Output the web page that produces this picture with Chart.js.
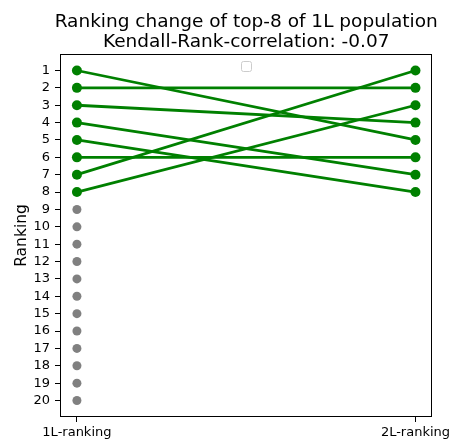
<!DOCTYPE html>
<html>
<head>
<meta charset="utf-8">
<script src="https://cdn.jsdelivr.net/npm/chart.js@4/dist/chart.umd.min.js"></script>
<style>
html,body{margin:0;padding:0;background:#fff;}
#wrap{width:454px;height:440px;position:relative;}
</style>
</head>
<body>
<div id="wrap"><canvas id="c" width="454" height="440"></canvas></div>
<script>
const titleLines = ['Ranking change of top-8 of 1L population', 'Kendall-Rank-correlation: -0.07'];
const yLabel = 'Ranking';
const xCategories = ['1L-ranking', '2L-ranking'];
const leftRanks = [1, 2, 3, 4, 5, 6, 7, 8];
const rightRanks = [5, 2, 4, 7, 8, 6, 1, 3];
const otherRanks = [9, 10, 11, 12, 13, 14, 15, 16, 17, 18, 19, 20];
const yTicks = [1, 2, 3, 4, 5, 6, 7, 8, 9, 10, 11, 12, 13, 14, 15, 16, 17, 18, 19, 20];

const FONT = "'DejaVu Sans', sans-serif";
const GREEN = '#008000';
const GRAY = '#808080';

const datasets = [];
datasets.push({
  data: otherRanks.map(r => ({x: 0, y: r})),
  showLine: false,
  pointRadius: 4.5,
  pointBackgroundColor: GRAY,
  pointBorderColor: GRAY,
  pointBorderWidth: 0
});
leftRanks.forEach((l, i) => {
  datasets.push({
    data: [{x: 0, y: l}, {x: 1, y: rightRanks[i]}],
    showLine: true,
    borderColor: GREEN,
    borderWidth: 2.8,
    pointRadius: 5,
    pointBackgroundColor: GREEN,
    pointBorderColor: GREEN,
    pointBorderWidth: 0
  });
});

const deco = {
  id: 'deco',
  afterDraw(chart) {
    const ctx = chart.ctx;
    const a = chart.chartArea;
    ctx.save();
    ctx.strokeStyle = '#000';
    ctx.lineWidth = 1;
    ctx.strokeRect(Math.round(a.left) + 0.5, Math.round(a.top) + 0.5, Math.round(a.right - a.left) - 1, Math.round(a.bottom - a.top) - 1);
    const cx = (a.left + a.right) / 2;
    ctx.fillStyle = '#000';
    ctx.textAlign = 'center';
    ctx.textBaseline = 'alphabetic';
    ctx.font = '18.5px ' + FONT;
    ctx.fillText(titleLines[0], cx, 27);
    ctx.fillText(titleLines[1], cx, 47);
    ctx.save();
    ctx.translate(26, (a.top + a.bottom) / 2);
    ctx.rotate(-Math.PI / 2);
    ctx.textBaseline = 'alphabetic';
    ctx.font = '15.5px ' + FONT;
    ctx.fillText(yLabel, 0, 0);
    ctx.restore();
    // empty legend box
    ctx.strokeStyle = '#cccccc';
    ctx.fillStyle = 'rgba(255,255,255,0.8)';
    ctx.lineWidth = 1;
    const bx = Math.round(cx - 5) + 0.5, by = 61.5, bw = 10, bh = 10, r = 2;
    ctx.beginPath();
    ctx.moveTo(bx + r, by);
    ctx.lineTo(bx + bw - r, by);
    ctx.quadraticCurveTo(bx + bw, by, bx + bw, by + r);
    ctx.lineTo(bx + bw, by + bh - r);
    ctx.quadraticCurveTo(bx + bw, by + bh, bx + bw - r, by + bh);
    ctx.lineTo(bx + r, by + bh);
    ctx.quadraticCurveTo(bx, by + bh, bx, by + bh - r);
    ctx.lineTo(bx, by + r);
    ctx.quadraticCurveTo(bx, by, bx + r, by);
    ctx.closePath();
    ctx.fill();
    ctx.stroke();
    ctx.restore();
  }
};

new Chart(document.getElementById('c'), {
  type: 'scatter',
  data: {datasets},
  plugins: [deco],
  options: {
    responsive: false,
    animation: false,
    devicePixelRatio: 1,
    clip: false,
    layout: {padding: {top: 54, right: 21, left: 0, bottom: 0}},
    plugins: {legend: {display: false}, tooltip: {enabled: false}, title: {display: false}},
    scales: {
      x: {
        type: 'linear',
        min: -0.05,
        max: 1.05,
        afterBuildTicks(s) { s.ticks = xCategories.map((c, i) => ({value: i})); },
        afterFit(s) { s.height = 23; },
        ticks: {
          color: '#000',
          font: {family: FONT, size: 13},
          padding: 3,
          maxRotation: 0,
          autoSkip: false,
          callback: (v) => xCategories[v]
        },
        grid: {display: true, drawOnChartArea: false, drawTicks: true, tickLength: 5, color: '#000', lineWidth: 1},
        border: {display: false}
      },
      y: {
        type: 'linear',
        reverse: true,
        min: 0.05,
        max: 20.95,
        afterBuildTicks(s) { s.ticks = yTicks.map(v => ({value: v})); },
        afterFit(s) { s.width = 60; },
        ticks: {
          color: '#000',
          font: {family: FONT, size: 13},
          padding: 5,
          autoSkip: false,
          callback: (v) => String(v)
        },
        grid: {display: true, drawOnChartArea: false, drawTicks: true, tickLength: 5, color: '#000', lineWidth: 1},
        border: {display: false}
      }
    }
  }
});
</script>
</body>
</html>
